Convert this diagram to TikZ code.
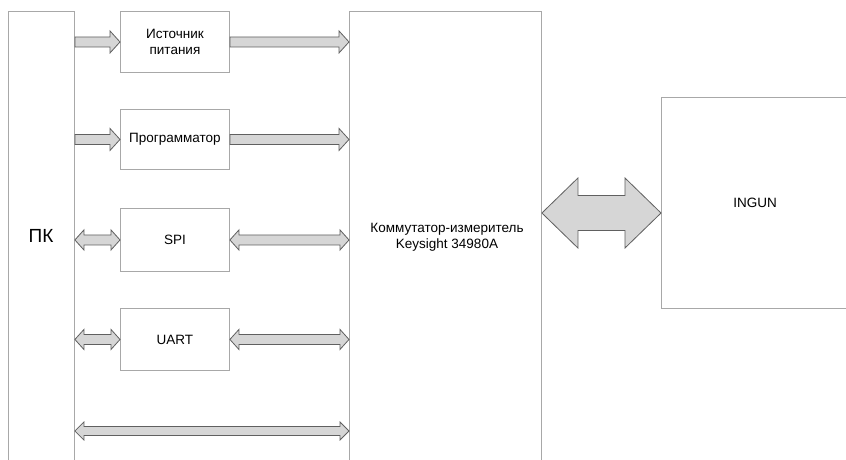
\documentclass[tikz,border=0pt]{standalone}
\usepackage{fontspec}
\setmainfont{Liberation Sans}
\usetikzlibrary{calc}
\definecolor{boxline}{HTML}{A8A8A8}
\definecolor{arrline}{HTML}{606060}
\definecolor{arrfill}{HTML}{D6D6D6}
\tikzset{
  box/.style={draw=boxline, line width=0.9pt, fill=white, inner sep=0pt, anchor=north west, align=center, font=\fontsize{13.5}{15.5}\selectfont},
  lbl/.style={inner sep=0pt, align=center, font=\fontsize{13.5}{15.5}\selectfont},
  fatarrow/.style={draw=arrline, fill=arrfill, line width=0.8pt, line join=miter}
}
% single head: #1 tail, #2 tip, #3 shaft half, #4 head half, #5 head length
\newcommand\fatR[5]{%
  \filldraw[fatarrow] ($(#1)+(0,-#3)$) -- ($(#2)+(-#5,-#3)$) -- ($(#2)+(-#5,-#4)$) -- (#2)
   -- ($(#2)+(-#5,#4)$) -- ($(#2)+(-#5,#3)$) -- ($(#1)+(0,#3)$) -- cycle;}
% double head: #1 left tip, #2 right tip
\newcommand\fatD[5]{%
  \filldraw[fatarrow] (#1) -- ($(#1)+(#5,-#4)$) -- ($(#1)+(#5,-#3)$) -- ($(#2)+(-#5,-#3)$)
   -- ($(#2)+(-#5,-#4)$) -- (#2) -- ($(#2)+(-#5,#4)$) -- ($(#2)+(-#5,#3)$)
   -- ($(#1)+(#5,#3)$) -- ($(#1)+(#5,#4)$) -- cycle;}
\begin{document}
\begin{tikzpicture}[x=1pt,y=-1pt]
\useasboundingbox (0,0) rectangle (846,459);
\begin{scope}
\clip (0,0) rectangle (846,459);
\fill[white] (0,0) rectangle (846,459);
% boxes
\node[box, minimum width=66pt, minimum height=470pt] (pc) at (8,11) {};
\node[lbl, font=\fontsize{19}{21}\selectfont] (pct) at (41,236) {ПК};
\node[box, minimum width=192pt, minimum height=470pt] (com) at (349,11) {};
\node[lbl] (comt) at (447,237) {Коммутатор-измеритель\\Keysight 34980A};
\node[box, minimum width=200pt, minimum height=211pt] (ing) at (661,97) {};
\node[lbl] (ingt) at (755,203) {INGUN};
\node[box, minimum width=109pt, minimum height=61pt] (src) at (120,11) {Источник\\питания};
\node[box, minimum width=109pt, minimum height=60pt] (prg) at (120,109) {Программатор};
\node[box, minimum width=109pt, minimum height=63pt] (spi) at (120,208) {SPI};
\node[box, minimum width=109pt, minimum height=62pt] (uart) at (120,308) {UART};
% connector end points
\coordinate (b1) at (pc.east |- 0,431);
\coordinate (b2) at (com.west |- 0,431);
\coordinate (g1) at (com.east |- 0,213);
\coordinate (g2) at (ing.west |- 0,213);
% arrows
\fatR{pc.east |- src.west}{src.west}{5}{11}{10}
\fatR{src.east}{com.west |- src.east}{5}{11}{10}
\fatR{pc.east |- prg.west}{prg.west}{5}{11}{10}
\fatR{prg.east}{com.west |- prg.east}{5}{11}{10}
\fatD{pc.east |- spi.west}{spi.west}{5}{10}{9}
\fatD{spi.east}{com.west |- spi.east}{5}{10}{9}
\fatD{pc.east |- uart.west}{uart.west}{5}{10}{9}
\fatD{uart.east}{com.west |- uart.east}{5}{10}{9}
\fatD{b1}{b2}{4.5}{9}{9}
\fatD{g1}{g2}{17.5}{35}{36}
\end{scope}
\end{tikzpicture}
\end{document}
